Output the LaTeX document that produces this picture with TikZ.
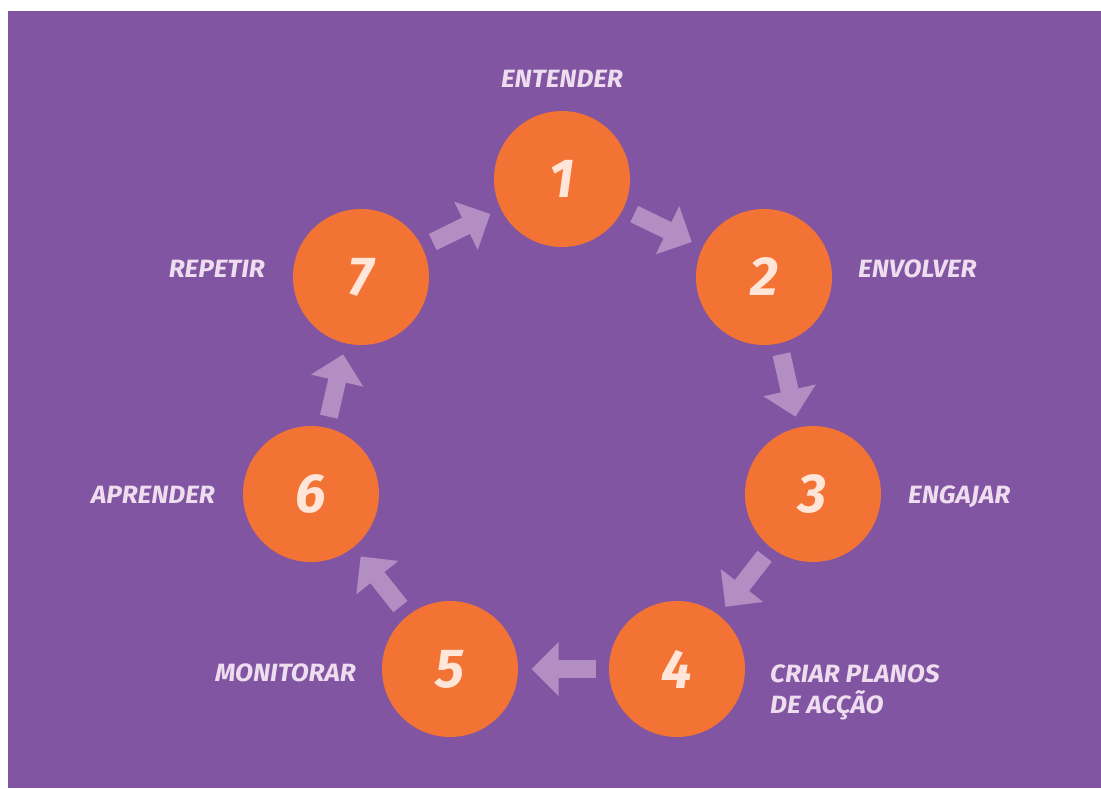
\documentclass[tikz,border=0pt]{standalone}
\usepackage{fontspec}
\setmainfont{Fira Sans}
\newfontfamily\steplabelfont[FakeStretch=1.05]{Fira Sans}
\usetikzlibrary{arrows.meta,calc}
\definecolor{bgpurple}{HTML}{8155A2}
\definecolor{discorange}{HTML}{F37334}
\definecolor{arrowlilac}{HTML}{B28EC3}
\definecolor{labelpink}{HTML}{EEDDEF}
\definecolor{numcream}{HTML}{FFE6D8}
\begin{document}
\begin{tikzpicture}[x=1pt, y=-1pt,
    stepdisc/.style={circle, fill=discorange, minimum size=136pt, inner sep=0pt,
      text=numcream, font=\bfseries\itshape\fontsize{55pt}{55pt}\selectfont},
    steplabel/.style={inner sep=0pt, text=labelpink,
      font=\steplabelfont\bfseries\itshape\fontsize{25pt}{31pt}\selectfont},
    flowarrow/.style={draw=arrowlilac, line width=18pt,
      -{Triangle[length=27pt, width=52pt]}}]
    \useasboundingbox (0,0) rectangle (1101,788);
    % Hintergrund
    \fill[bgpurple] (8,11) rectangle (1101,788);

    % Kreise im Zyklus
    \node[stepdisc] (s1) at (562,179) {1};
    \node[stepdisc] (s2) at (764,277) {2};
    \node[stepdisc] (s3) at (813,494) {3};
    \node[stepdisc] (s4) at (677,669) {4};
    \node[stepdisc] (s5) at (450,669) {5};
    \node[stepdisc] (s6) at (311,494) {6};
    \node[stepdisc] (s7) at (361,277) {7};

    % Beschriftungen
    \node[steplabel, anchor=base] (l1) at (562,87) {ENTENDER};
    \node[steplabel, anchor=base west] (l2) at (858,277) {ENVOLVER};
    \node[steplabel, anchor=base west] (l3) at (908,503) {ENGAJAR};
    \node[steplabel, anchor=north west, align=left] (l4) at (770,665) {CRIAR PLANOS\\DE ACÇÃO};
    \node[steplabel, anchor=base east] (l5) at (356,681) {MONITORAR};
    \node[steplabel, anchor=base east] (l6) at (215,503) {APRENDER};
    \node[steplabel, anchor=base east] (l7) at (265,277) {REPETIR};

    % Pfeile, jeweils mittig zwischen zwei Kreisen
    \draw[flowarrow] ($(s1)!.5!(s2)!32pt!(s1)$) -- ($(s1)!.5!(s2)!32pt!(s2)$);
    \draw[flowarrow] ($(s2)!.5!(s3)!32pt!(s2)$) -- ($(s2)!.5!(s3)!32pt!(s3)$);
    \draw[flowarrow] ($(s3)!.5!(s4)!32pt!(s3)$) -- ($(s3)!.5!(s4)!32pt!(s4)$);
    \draw[flowarrow] ($(s4)!.5!(s5)!32pt!(s4)$) -- ($(s4)!.5!(s5)!32pt!(s5)$);
    \draw[flowarrow] ($(s5)!.5!(s6)!32pt!(s5)$) -- ($(s5)!.5!(s6)!32pt!(s6)$);
    \draw[flowarrow] ($(s6)!.5!(s7)!32pt!(s6)$) -- ($(s6)!.5!(s7)!32pt!(s7)$);
    \draw[flowarrow] ($(s7)!.5!(s1)!32pt!(s7)$) -- ($(s7)!.5!(s1)!32pt!(s1)$);
\end{tikzpicture}
\end{document}
